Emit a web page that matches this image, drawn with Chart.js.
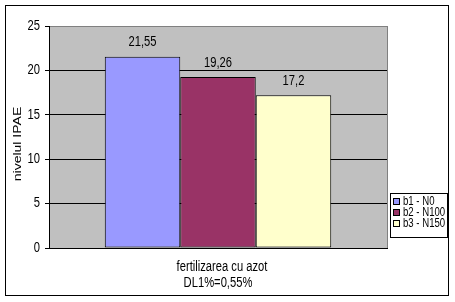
<!DOCTYPE html>
<html>
<head>
<meta charset="utf-8">
<script src="https://cdn.jsdelivr.net/npm/chart.js@4.4.1/dist/chart.umd.min.js"></script>
<style>
  html, body { margin: 0; padding: 0; background: #fff; }
  canvas { display: block; }
</style>
</head>
<body>
<canvas id="chart" width="455" height="302"></canvas>
<script>
// Data
const categories = [""];
const seriesNames = ["b1 - N0", "b2 - N100", "b3 - N150"];
const seriesValues = [21.55, 19.26, 17.2];
const seriesColors = ["#9999FF", "#993366", "#FFFFCC"];
const yTicks = [0, 5, 10, 15, 20, 25];
const xTitle = ["fertilizarea cu azot", "DL1%=0,55%"];
const yTitle = "nivelul IPAE";

const FONT = '"Liberation Sans", Arial, sans-serif';
const SQUEEZE = 0.8; // the original text is horizontally narrow

// draw horizontally condensed text
function narrowText(ctx, text, x, y, size, align) {
  ctx.save();
  ctx.font = size + "px " + FONT;
  ctx.textAlign = align || "center";
  ctx.textBaseline = "middle";
  ctx.translate(x, y);
  ctx.scale(SQUEEZE, 1);
  ctx.fillText(text, 0, 0);
  ctx.restore();
}

// Background, outer frame and gray plot area
const framePlugin = {
  id: "frame",
  beforeDraw(chart) {
    const { ctx, chartArea: a } = chart;
    ctx.save();
    ctx.fillStyle = "#fff";
    ctx.fillRect(0, 0, chart.width, chart.height);
    ctx.strokeStyle = "#000";
    ctx.lineWidth = 1;
    ctx.strokeRect(5.5, 5.5, 443, 290);
    ctx.fillStyle = "#C0C0C0";
    ctx.fillRect(a.left, a.top, a.right - a.left, a.bottom - a.top);
    ctx.strokeStyle = "#808080";
    ctx.strokeRect(a.left + 0.5, a.top + 0.5, a.right - a.left, a.bottom - a.top);
    ctx.restore();
  }
};

// Tick labels, value labels above bars, axis titles, legend box
const textPlugin = {
  id: "texts",
  afterDatasetsDraw(chart) {
    const ctx = chart.ctx;
    ctx.fillStyle = "#000";
    chart.data.datasets.forEach((ds, i) => {
      const bar = chart.getDatasetMeta(i).data[0];
      narrowText(ctx, String(ds.data[0]).replace(".", ","), bar.x, bar.y - 14, 14, "center");
    });
  },
  afterDraw(chart) {
    const { ctx, chartArea: a } = chart;
    const yScale = chart.scales.y;
    ctx.fillStyle = "#000";
    yScale.ticks.forEach(t => {
      narrowText(ctx, String(t.value), a.left - 9, yScale.getPixelForValue(t.value), 14, "right");
    });

    const cx = (a.left + a.right) / 2 + 4;
    narrowText(ctx, xTitle[0], cx, 267, 14, "center");
    narrowText(ctx, xTitle[1], cx - 4, 283, 14, "center");

    ctx.save();
    ctx.translate(18, 144);
    ctx.rotate(-Math.PI / 2);
    ctx.font = "14px " + FONT;
    ctx.textAlign = "center";
    ctx.textBaseline = "middle";
    ctx.scale(1, SQUEEZE);
    ctx.fillText(yTitle, 0, 0);
    ctx.restore();

    // legend
    ctx.save();
    ctx.fillStyle = "#fff";
    ctx.fillRect(390, 193, 57, 44);
    ctx.strokeStyle = "#000";
    ctx.lineWidth = 1;
    ctx.strokeRect(390.5, 193.5, 57, 44);
    chart.data.datasets.forEach((ds, i) => {
      const y = 202 + i * 11;
      ctx.fillStyle = ds.backgroundColor;
      ctx.fillRect(393.5, y - 3.5, 6, 6);
      ctx.strokeStyle = "#000";
      ctx.strokeRect(393.5, y - 3.5, 6, 6);
      ctx.fillStyle = "#000";
      narrowText(ctx, ds.label, 403, y, 12, "left");
    });
    ctx.restore();
  }
};

new Chart(document.getElementById("chart"), {
  type: "bar",
  data: {
    labels: categories,
    datasets: seriesNames.map((name, i) => ({
      label: name,
      data: [seriesValues[i]],
      backgroundColor: seriesColors[i],
      borderColor: "#000",
      borderWidth: 1,
      borderSkipped: false,
      categoryPercentage: 0.67,
      barPercentage: 1
    }))
  },
  options: {
    responsive: false,
    animation: false,
    devicePixelRatio: 1,
    layout: { padding: { left: 6, top: 26, right: 68, bottom: 54 } },
    plugins: {
      legend: { display: false },
      tooltip: { enabled: false }
    },
    scales: {
      x: {
        ticks: { display: false },
        grid: { display: false },
        border: { display: true, color: "#000", width: 1 },
        afterFit: s => { s.height = 0; }
      },
      y: {
        min: 0,
        max: 25,
        afterBuildTicks: s => { s.ticks = yTicks.map(v => ({ value: v })); },
        ticks: { display: false },
        grid: {
          color: c => (c.tick && c.tick.value === 25 ? "#808080" : "#000"),
          tickColor: "#000",
          tickLength: 4
        },
        border: { color: "#000", width: 1 },
        afterFit: s => { s.width = 43; }
      }
    }
  },
  plugins: [framePlugin, textPlugin]
});
</script>
</body>
</html>
